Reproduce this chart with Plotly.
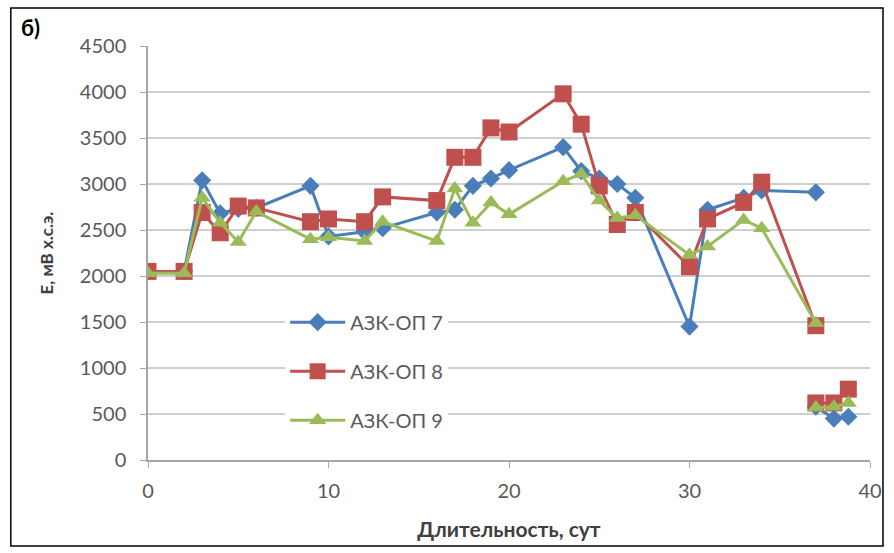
import plotly.graph_objects as go

# Duration, days (None breaks the line before the final group of measurements)
days = [0, 2, 3, 4, 5, 6, 9, 10, 12, 13, 16, 17, 18, 19, 20, 23, 24, 25, 26, 27,
        30, 31, 33, 34, 37, None, 37, 38, 38.8]

# Potential E, mV (s.h.e.)
azk_op7 = [2050, 2050, 3040, 2680, 2730, 2740, 2980, 2430, 2480, 2520, 2690, 2720,
           2980, 3060, 3150, 3400, 3140, 3060, 3000, 2850, 1450, 2720, 2850, 2930,
           2910, None, 580, 450, 470]
azk_op8 = [2050, 2050, 2690, 2470, 2760, 2740, 2590, 2620, 2590, 2860, 2820, 3290,
           3290, 3610, 3565, 3980, 3650, 2980, 2560, 2690, 2100, 2620, 2800, 3020,
           1460, None, 620, 620, 770]
azk_op9 = [2030, 2030, 2850, 2580, 2370, 2700, 2400, 2420, 2380, 2590, 2380, 2950,
           2580, 2800, 2670, 3030, 3110, 2820, 2630, 2660, 2230, 2320, 2610, 2520,
           1490, None, 570, 580, 620]

series_names = ["АЗК-ОП 7", "АЗК-ОП 8", "АЗК-ОП 9"]
y_ticks = list(range(0, 4501, 500))
x_ticks = [0, 10, 20, 30, 40]

colors = ["#4A7EBB", "#C0504D", "#9BBB59"]
symbols = ["diamond", "square", "triangle-up"]
sizes = [14, 17, 15]

FONT = "Lato, 'Noto Sans', sans-serif"

fig = go.Figure()
for i, (name, vals) in enumerate(zip(series_names, [azk_op7, azk_op8, azk_op9])):
    fig.add_trace(go.Scatter(
        x=days, y=vals, name=name, mode="lines+markers",
        line=dict(color=colors[i], width=3),
        marker=dict(symbol=symbols[i], size=sizes[i], color=colors[i]),
        legendgroup=name, connectgaps=False,
    ))

fig.update_layout(
    width=894, height=553,
    margin=dict(l=148, r=21, t=46, b=93),
    paper_bgcolor="white", plot_bgcolor="white",
    font=dict(family=FONT, size=20, color="#595959"),
    showlegend=True,
    legend=dict(
        x=0.19, y=0.38, xanchor="left", yanchor="top",
        bgcolor="white", font=dict(size=20, color="#595959"),
        traceorder="grouped", tracegroupgap=20, itemwidth=55,
    ),
    xaxis=dict(
        range=[0, 40], tickvals=x_ticks, showgrid=False, zeroline=False,
        showline=True, linecolor="#a6a6a6", linewidth=1.5,
        ticks="outside", ticklen=6, tickcolor="#a6a6a6", ticklabelstandoff=6,
        title=dict(text="<b>Длительность, сут</b>", font=dict(size=21, color="#404040"), standoff=22),
    ),
    yaxis=dict(
        range=[0, 4500], tickvals=y_ticks, showgrid=True, gridcolor="#cfcfcf", gridwidth=1.5,
        zeroline=False, showline=True, linecolor="#a6a6a6", linewidth=1.5,
        ticks="outside", ticklen=6, tickcolor="#a6a6a6", ticklabelstandoff=10,
        title=dict(text="<b>E, мВ х.с.э.</b>", font=dict(size=17, color="#404040"), standoff=22),
    ),
    shapes=[dict(type="rect", xref="paper", yref="paper",
                 x0=-0.19, x1=1.018, y0=-0.208, y1=1.092,
                 line=dict(color="black", width=1.5), fillcolor="rgba(0,0,0,0)", layer="below")],
    annotations=[dict(text="<b>б)</b>", xref="paper", yref="paper", x=-0.178, y=1.082,
                      xanchor="left", yanchor="top", showarrow=False,
                      font=dict(size=22, color="black", family=FONT))],
)

fig.write_html("out.html")
